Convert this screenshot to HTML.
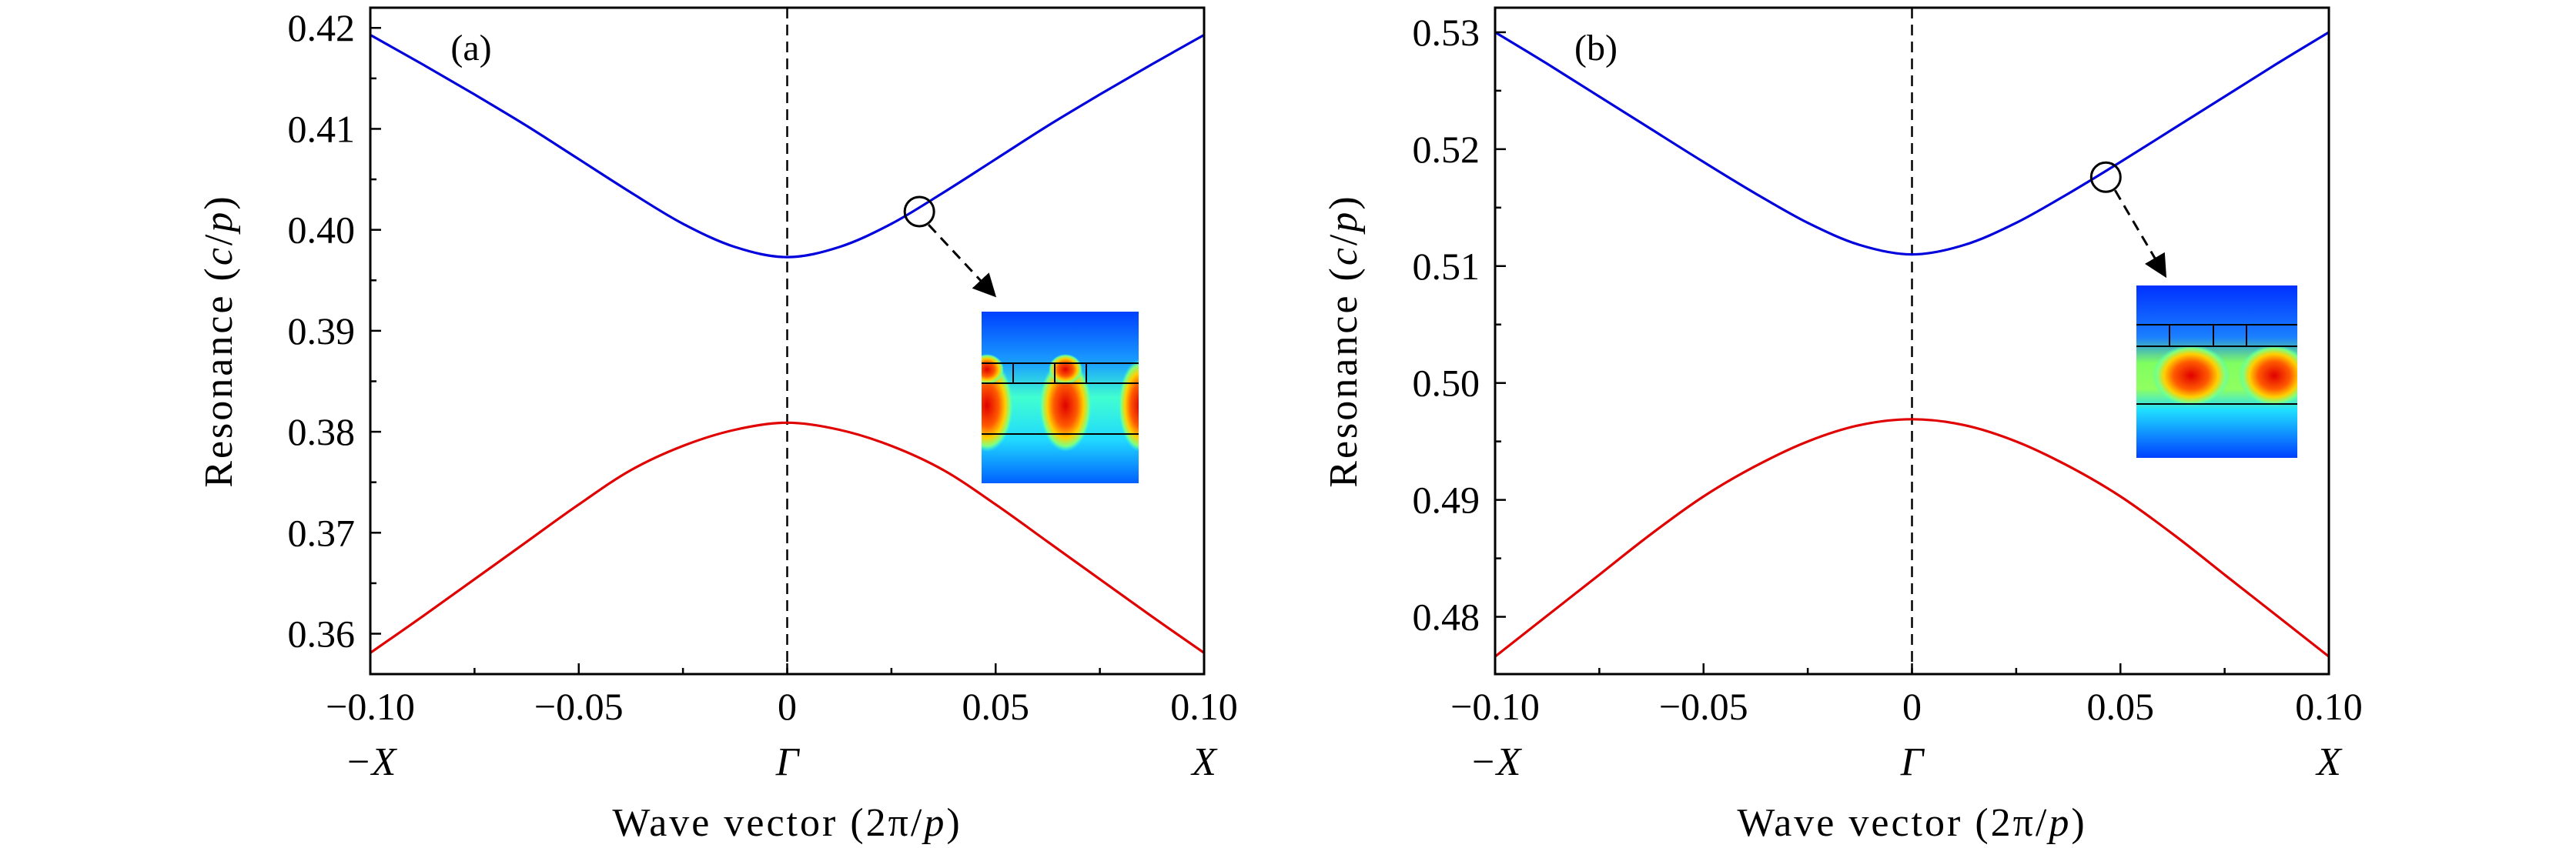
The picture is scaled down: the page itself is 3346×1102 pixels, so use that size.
<!DOCTYPE html>
<html><head><meta charset="utf-8">
<style>
html,body{margin:0;padding:0;background:#fff;}
svg{display:block;font-family:"Liberation Serif",serif;}
</style></head>
<body>
<svg id="fig" width="3346" height="1102" viewBox="0 0 3346 1102" xmlns="http://www.w3.org/2000/svg">
<defs>
<radialGradient id="hotA" cx="50%" cy="50%" r="50%">
<stop offset="0" stop-color="#e00000"/><stop offset="0.45" stop-color="#ff5a00"/><stop offset="0.7" stop-color="#ffd000"/><stop offset="0.88" stop-color="#80ff80"/><stop offset="1" stop-color="#40ffd0" stop-opacity="0"/>
</radialGradient>
<linearGradient id="bgA" x1="0" y1="0" x2="0" y2="1">
<stop offset="0" stop-color="#0040ff"/><stop offset="0.3" stop-color="#1aa0ff"/><stop offset="0.5" stop-color="#40ffd0"/><stop offset="0.75" stop-color="#20d8ff"/><stop offset="1" stop-color="#0060ff"/>
</linearGradient>
<linearGradient id="bgB" x1="0" y1="0" x2="0" y2="1">
<stop offset="0" stop-color="#0030ff"/><stop offset="0.3" stop-color="#1a80ff"/><stop offset="0.45" stop-color="#80ff60"/><stop offset="0.6" stop-color="#90ff60"/><stop offset="0.72" stop-color="#20e0ff"/><stop offset="1" stop-color="#0040ff"/>
</linearGradient>
<clipPath id="clipA"><rect x="1275" y="405" width="204" height="223"/></clipPath>
<clipPath id="clipB"><rect x="2775" y="371" width="209" height="224"/></clipPath>
<marker id="arrow" markerWidth="10" markerHeight="10" refX="8" refY="5" orient="auto" markerUnits="strokeWidth">
<path d="M0,0 L10,5 L0,10 z" fill="#000"/>
</marker>
</defs>
<g id="panelA"></g>
<g id="panelB"></g>
</svg>
<script>
const kValues = [-0.1,-0.0875,-0.075,-0.0625,-0.05,-0.0375,-0.025,-0.0125,0,0.0125,0.025,0.0375,0.05,0.0625,0.075,0.0875,0.1];
const upperA = [0.4193,0.4164,0.4134,0.4103,0.4070,0.4037,0.4006,0.3983,0.3973,0.3983,0.4006,0.4037,0.4070,0.4103,0.4134,0.4164,0.4193];
const lowerA = [0.3581,0.3617,0.3654,0.3691,0.3728,0.3762,0.3786,0.3802,0.3809,0.3802,0.3786,0.3762,0.3728,0.3691,0.3654,0.3617,0.3581];
const upperB = [0.5300,0.5273,0.5245,0.5217,0.5189,0.5162,0.5137,0.5118,0.5110,0.5118,0.5137,0.5162,0.5189,0.5217,0.5245,0.5273,0.5300];
const lowerB = [0.4766,0.4801,0.4836,0.4871,0.4903,0.4929,0.4950,0.4964,0.4969,0.4964,0.4950,0.4929,0.4903,0.4871,0.4836,0.4801,0.4766];
const xTicks = [-0.1,-0.05,0,0.05,0.1];
const xTickLabels = ["\u22120.10","\u22120.05","0","0.05","0.10"];
const yTicksA = [0.36,0.37,0.38,0.39,0.40,0.41,0.42];
const yTicksB = [0.48,0.49,0.50,0.51,0.52,0.53];
const NS = "http://www.w3.org/2000/svg";
function mk(parent, tag, attrs, text){
  const e = document.createElementNS(NS, tag);
  for (const k in attrs) e.setAttribute(k, attrs[k]);
  if (text !== undefined) e.textContent = text;
  parent.appendChild(e);
  return e;
}
function smoothPath(pts){
  let d = 'M'+pts[0][0].toFixed(1)+','+pts[0][1].toFixed(1);
  for (let i=0;i<pts.length-1;i++){
    const p0=pts[Math.max(i-1,0)], p1=pts[i], p2=pts[i+1], p3=pts[Math.min(i+2,pts.length-1)];
    const c1=[p1[0]+(p2[0]-p0[0])/6, p1[1]+(p2[1]-p0[1])/6];
    const c2=[p2[0]-(p3[0]-p1[0])/6, p2[1]-(p3[1]-p1[1])/6];
    d += ` C${c1[0].toFixed(1)},${c1[1].toFixed(1)} ${c2[0].toFixed(1)},${c2[1].toFixed(1)} ${p2[0].toFixed(1)},${p2[1].toFixed(1)}`;
  }
  return d;
}
function drawPanel(g, cfg){
  const L=cfg.left, R=cfg.right, T=10, B=876;
  const xs = v => L + (v - (-0.1)) / 0.2 * (R - L);
  const ys = v => B - (v - cfg.ymin) / (cfg.ymax - cfg.ymin) * (B - T);
  const dl = mk(g,'line',{x1:xs(0),x2:xs(0),y1:T,y2:B,stroke:'#000','stroke-width':2.5,'stroke-dasharray':'14 8'});
  
  
  [[cfg.upper,'#0000dd','upper-band-curve'],[cfg.lower,'#e00000','lower-band-curve']].forEach(([arr,col,name])=>{
    const pts = arr.map((v,i)=>[xs(kValues[i]), ys(v)]);
    const p = mk(g,'path',{d:smoothPath(pts),fill:'none',stroke:col,'stroke-width':3.2});
    
    
  });
  const step = 0.01;
  for (let v = cfg.yTicks[0]-step/2; v <= cfg.ymax; v += step/2){
    if (v < cfg.ymin) continue;
    const major = cfg.yTicks.some(t=>Math.abs(t-v)<1e-6);
    const tk = mk(g,'line',{x1:L,x2:L+(major?14:8),y1:ys(v),y2:ys(v),stroke:'#000','stroke-width':2.5});
    
    
  }
  cfg.yTicks.forEach(v=>{
    const t = mk(g,'text',{x:L-20,y:ys(v)+17,'font-size':50,'text-anchor':'end'},v.toFixed(2));
    
    
  });
  [-0.1,-0.075,-0.05,-0.025,0,0.025,0.05,0.075,0.1].forEach(v=>{
    const major = xTicks.some(t=>Math.abs(t-v)<1e-6);
    const tk = mk(g,'line',{x1:xs(v),x2:xs(v),y1:B,y2:B-(major?14:8),stroke:'#000','stroke-width':2.5});
    
    
  });
  xTicks.forEach((v,i)=>{
    const t = mk(g,'text',{x:xs(v),y:935,'font-size':50,'text-anchor':'middle'},xTickLabels[i]);
    
    
  });
  [['\u2212X',-0.1,'minus-x-label'],['\u0393',0,'gamma-label'],['X',0.1,'x-point-label']].forEach(([s,v,n])=>{
    const t = mk(g,'text',{x:xs(v),y:1007,'font-size':52,'font-style':'italic','text-anchor':'middle'},s);
    
    
  });
  const fr = mk(g,'rect',{x:L,y:T,width:R-L,height:B-T,fill:'none',stroke:'#000','stroke-width':3});
  
  
  const xt = mk(g,'text',{x:(L+R)/2,y:1086,'font-size':52,'letter-spacing':3,'text-anchor':'middle'});
  
  
  xt.innerHTML = 'Wave vector (2\u03c0/<tspan font-style="italic">p</tspan>)';
  const yt = mk(g,'text',{x:0,y:0,'font-size':52,'letter-spacing':3,'text-anchor':'middle',transform:`translate(${L-180},443) rotate(-90)`});
  
  
  yt.innerHTML = 'Resonance (<tspan font-style="italic">c</tspan>/<tspan font-style="italic">p</tspan>)';
  const pl = mk(g,'text',{x:L+131,y:78,'font-size':48,'text-anchor':'middle'},cfg.label);
  
  
  const cx = xs(cfg.markK), cy = ys(cfg.markV);
  const c = mk(g,'ellipse',{cx:cx,cy:cy,rx:19,ry:19,fill:'none',stroke:'#000','stroke-width':3});
  
  
  const ar = mk(g,'line',{x1:cx+12,y1:cy+17,x2:cfg.arrowTip[0]-6,y2:cfg.arrowTip[1]-10,stroke:'#000','stroke-width':3,'stroke-dasharray':'14 9','marker-end':'url(#arrow)'});
  
  
  const ins = mk(g,'g',{});
  
  
  const I = cfg.inset;
  mk(ins,'rect',{x:I.x,y:I.y,width:I.w,height:I.h,fill:cfg.bg});
  const blobs = mk(ins,'g',{'clip-path':`url(#${cfg.clip})`});
  I.blobs.forEach(b=>mk(blobs,'ellipse',{cx:b[0],cy:b[1],rx:b[2],ry:b[3],fill:'url(#hotA)'}));
  I.hlines.forEach(yv=>mk(ins,'line',{x1:I.x,x2:I.x+I.w,y1:yv,y2:yv,stroke:'#000','stroke-width':2}));
  I.vlines.forEach(xv=>mk(ins,'line',{x1:xv,x2:xv,y1:I.hlines[0],y2:I.hlines[1],stroke:'#000','stroke-width':2}));
}
drawPanel(document.getElementById('panelA'),{
  left:481,right:1564,ymin:0.356,ymax:0.4220,upper:upperA,lower:lowerA,yTicks:yTicksA,label:'(a)',clip:'clipA',
  markK:0.0317,markV:0.4018,arrowTip:[1296,392],bg:'url(#bgA)',
  inset:{x:1275,y:405,w:204,h:223,hlines:[472,498,564],vlines:[1316,1370,1411],
    blobs:[[1282,527,34,60],[1384,527,34,60],[1481,527,28,60],[1282,480,22,20],[1384,480,22,20]]}
});
drawPanel(document.getElementById('panelB'),{
  left:1942,right:3025,ymin:0.4751,ymax:0.5321,upper:upperB,lower:lowerB,yTicks:yTicksB,label:'(b)',clip:'clipB',
  markK:0.0465,markV:0.5176,arrowTip:[2817,366],bg:'url(#bgB)',
  inset:{x:2775,y:371,w:209,h:224,hlines:[422,450,525],vlines:[2818,2875,2918],
    blobs:[[2846,488,50,40],[2954,488,46,40]]}
});
</script>
</body></html>
